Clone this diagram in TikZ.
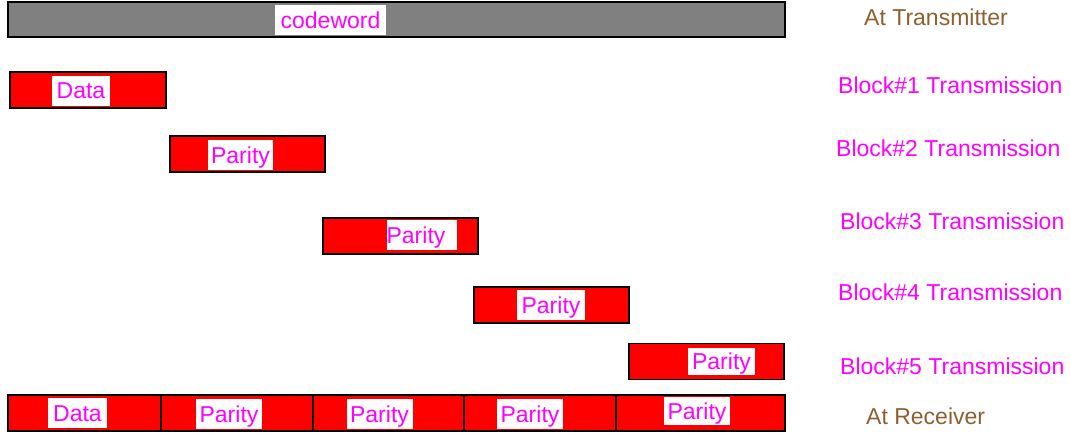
\documentclass[tikz,border=0pt]{standalone}
\usepackage{fontspec}
\setmainfont{Liberation Sans}
\usetikzlibrary{positioning}
\definecolor{tagpink}{HTML}{FF00FF}
\definecolor{sidebrown}{HTML}{8F5F2F}
\definecolor{codegray}{HTML}{808080}

\tikzset{
  bar/.style={draw=black,line width=1.2pt,fill=red,inner sep=0pt,minimum height=36pt},
  tag/.style={fill=white,text=tagpink,font=\fontsize{23}{23}\selectfont,inner sep=0pt,
    text height=20pt,text depth=4pt,minimum height=30pt,minimum width=#1},
  tag/.default=66pt,
  side/.style={font=\fontsize{23}{23}\selectfont,anchor=west,inner xsep=0pt}
}

\begin{document}
\begin{tikzpicture}[x=1pt,y=-1pt]
\useasboundingbox (0,0) rectangle (1070,436);
% transmitter
\node[bar,fill=codegray,minimum width=777pt,minimum height=35pt] (cw) at (396.5,19.5) {};
\node[tag=111pt] (cwtag) at (330.5,20.5) {codeword};
% blocks sent one by one
\node[bar,minimum width=156pt] (b1) at (88,90) {};
\node[tag=58pt] (b1tag) at (81,90.5) {Data};
\node[bar,minimum width=155pt] (b2) at (247.5,154) {};
\node[tag=65pt] (b2tag) at (240.5,155) {Parity};
\node[bar,minimum width=155pt] (b3) at (400.5,236) {};
\node[tag=70pt] (b3tag) at (422,235) {\hspace*{-12pt}Parity};
\node[bar,minimum width=155pt] (b4) at (551.5,305) {};
\node[tag=68pt] (b4tag) at (551,305) {Parity};
\node[bar,minimum width=155pt] (b5) at (706.5,361.5) {};
\node[tag=67pt,minimum height=27pt] (b5tag) at (721.5,361.5) {Parity};
% receiver
\foreach \cx/\w [count=\i] in {84.5/153,237/152,388.5/151,540/152,700.5/169} {
  \node[bar,minimum width=\w pt] (r\i) at (\cx,413) {};
}
\node[tag=59pt] (r1tag) at (77.5,413) {Data};
\node[tag] (r2tag) at (229,414) {Parity};
\node[tag] (r3tag) at (379.5,414) {Parity};
\node[tag] (r4tag) at (530,414) {Parity};
\node[tag,minimum height=28pt] (r5tag) at (697,411) {Parity};
% right side labels
\node[side,text=sidebrown] (tx) at (864,17) {At Transmitter};
\foreach \n/\lx/\ly in {1/838/85,2/836/148,3/840/221,4/838/292,5/840/366} {
  \node[side,text=tagpink] (s\n) at (\lx,\ly) {Block\#\n{} Transmission};
}
\node[side,text=sidebrown] (rx) at (866,416) {At Receiver};
\end{tikzpicture}
\end{document}
